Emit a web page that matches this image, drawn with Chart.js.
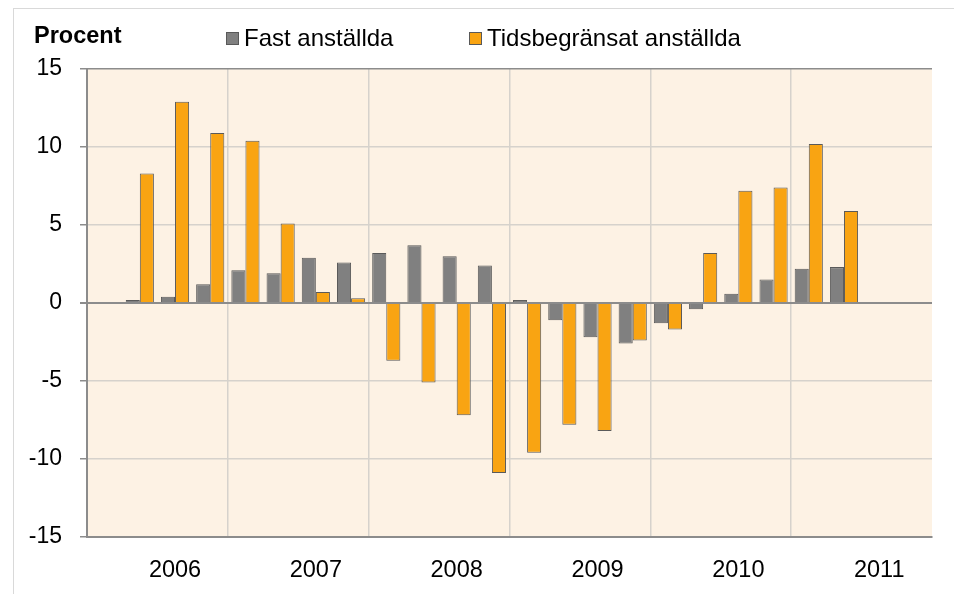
<!DOCTYPE html>
<html>
<head>
<meta charset="utf-8">
<script src="https://cdn.jsdelivr.net/npm/chart.js@4"></script>
<style>
    body { margin: 0; background: #fff; }
    #wrap { position: relative; width: 954px; height: 594px; }
</style>
</head>
<body>
<div id="wrap"><canvas id="chart"></canvas></div>
<script>
// Quarterly change, percent
const quarters = [
    '2006K1', '2006K2', '2006K3', '2006K4',
    '2007K1', '2007K2', '2007K3', '2007K4',
    '2008K1', '2008K2', '2008K3', '2008K4',
    '2009K1', '2009K2', '2009K3', '2009K4',
    '2010K1', '2010K2', '2010K3', '2010K4',
    '2011K1', '2011K2', '2011K3', '2011K4'
];
const years = ['2006', '2007', '2008', '2009', '2010', '2011'];

const fastAnstallda = [
    null, 0.2, 0.4, 1.2,
    2.1, 1.9, 2.9, 2.6,
    3.2, 3.7, 3.0, 2.4,
    0.2, -1.1, -2.2, -2.6,
    -1.3, -0.4, 0.6, 1.5,
    2.2, 2.3, null, null
];
const tidsbegransat = [
    null, 8.3, 12.9, 10.9,
    10.4, 5.1, 0.7, 0.3,
    -3.7, -5.1, -7.2, -10.9,
    -9.6, -7.8, -8.2, -2.4,
    -1.7, 3.2, 7.2, 7.4,
    10.2, 5.9, null, null
];
const yTicks = [-15, -10, -5, 0, 5, 10, 15];

const FONT = '"Liberation Sans", Arial, sans-serif';
const AXIS_GREY = '#8c8c8c';
const GRID_GREY = '#d6d2cc';

// background, frame, "Procent" and legend
const decorPlugin = {
    id: 'decor',
    beforeDraw(chart) {
        const { ctx, chartArea } = chart;
        ctx.save();
        ctx.strokeStyle = '#d9d9d9';
        ctx.lineWidth = 1;
        ctx.strokeRect(13.5, 8.5, 960, 600);
        ctx.fillStyle = '#fdf2e4';
        ctx.fillRect(chartArea.left, chartArea.top, chartArea.right - chartArea.left, chartArea.bottom - chartArea.top);
        ctx.restore();
    },
    afterDraw(chart) {
        const ctx = chart.ctx;
        ctx.save();
        ctx.fillStyle = '#000';
        ctx.textBaseline = 'alphabetic';
        ctx.font = 'bold 23.5px ' + FONT;
        ctx.fillText('Procent', 34, 43);

        const starts = [226, 469];
        ctx.font = '24px ' + FONT;
        chart.data.datasets.forEach((ds, i) => {
            const x = starts[i];
            ctx.fillStyle = ds.backgroundColor;
            ctx.fillRect(x, 32, 13, 13);
            ctx.strokeStyle = '#595959';
            ctx.lineWidth = 1;
            ctx.strokeRect(x + 0.5, 32.5, 12, 12);
            ctx.fillStyle = '#000';
            ctx.fillText(ds.label, x + 18, 46);
        });
        ctx.restore();
    }
};

const ctx = document.getElementById('chart').getContext('2d');
new Chart(ctx, {
    type: 'bar',
    data: {
        labels: quarters,
        datasets: [
            {
                label: 'Fast anställda',
                data: fastAnstallda,
                backgroundColor: '#808080',
                borderColor: '#5a5a5a',
                borderWidth: 1,
                categoryPercentage: 0.8,
                barPercentage: 1.0
            },
            {
                label: 'Tidsbegränsat anställda',
                data: tidsbegransat,
                backgroundColor: '#f9a412',
                borderColor: '#5a5a5a',
                borderWidth: 1,
                categoryPercentage: 0.8,
                barPercentage: 1.0
            }
        ]
    },
    options: {
        responsive: true,
        maintainAspectRatio: false,
        animation: false,
        layout: { padding: { top: 69, right: 22, bottom: 0, left: 0 } },
        plugins: {
            legend: { display: false },
            tooltip: { enabled: false }
        },
        scales: {
            x: {
                offset: true,
                grid: {
                    offset: true,
                    drawTicks: false,
                    lineWidth: 1.5,
                    color: c => {
                        if (c.index === quarters.length) return AXIS_GREY;
                        return c.index % 4 === 0 ? GRID_GREY : 'rgba(0,0,0,0)';
                    }
                },
                border: { color: AXIS_GREY, width: 2 },
                ticks: {
                    autoSkip: false,
                    maxRotation: 0,
                    color: '#000',
                    font: { family: FONT, size: 23.5 },
                    padding: 19,
                    callback: (val, i) => (i % 4 === 2 ? years[Math.floor(i / 4)] : '')
                },
                afterFit(scale) { scale.height = 57; }
            },
            y: {
                min: -15,
                max: 15,
                afterBuildTicks(scale) {
                    scale.ticks = yTicks.map(v => ({ value: v }));
                },
                grid: {
                    lineWidth: c => (c.tick && c.tick.value === 0 ? 2 : 1.5),
                    color: c => (c.tick && (c.tick.value === 0 || c.tick.value === 15) ? AXIS_GREY : GRID_GREY),
                    tickColor: AXIS_GREY,
                    tickLength: 7
                },
                border: { color: AXIS_GREY, width: 2 },
                ticks: {
                    color: '#000',
                    font: { family: FONT, size: 23 },
                    padding: 18
                },
                afterFit(scale) { scale.width = 87; }
            }
        }
    },
    plugins: [decorPlugin]
});
</script>
</body>
</html>
